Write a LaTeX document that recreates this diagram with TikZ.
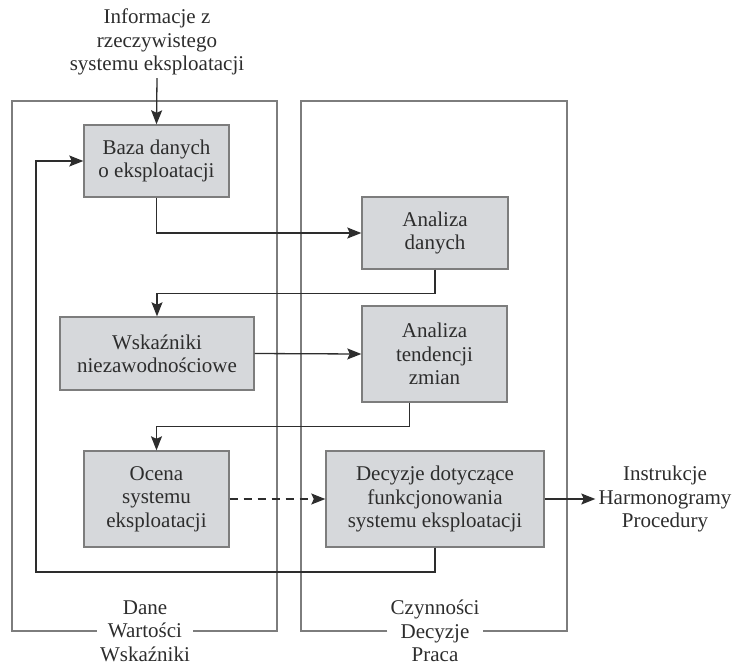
\documentclass[tikz,border=0pt]{standalone}
\usepackage{fontspec}
\setmainfont{Liberation Serif}
\usepackage{tikz}
\usetikzlibrary{arrows.meta}

\definecolor{boxgray}{RGB}{214,216,219}
\definecolor{linegray}{RGB}{125,125,125}
\definecolor{textgray}{RGB}{45,45,45}

\tikzset{
    block/.style={draw=linegray,
        fill=boxgray,
        line width=1.4pt,
        inner sep=0pt,
        align=center},
    caption/.style={align=center, inner sep=3pt},
    frame/.style={draw=linegray, line width=1.3pt},
    arr/.style={-{Stealth[length=14pt,width=11pt,inset=2.5pt]},
        draw=textgray,
        line width=1.3pt}
}

\begin{document}
\begin{tikzpicture}[x=1pt, y=-1pt,
    font=\fontsize{21}{23.3}\selectfont,
    text=textgray]

    \useasboundingbox (0,0) rectangle (747,665);

    % Boxes
    \node[block,
        minimum width=145pt,
        minimum height=72pt
    ] (baza) at (156.5,161) {Baza danych\\o eksploatacji};

    \node[block,
        minimum width=146pt,
        minimum height=72pt
    ] (danych) at (435,233) {Analiza\\danych};

    \node[block,
        minimum width=194pt,
        minimum height=73pt
    ] (wsk) at (157,353.5) {Wskaźniki\\niezawodnościowe};

    \node[block,
        minimum width=145pt,
        minimum height=96pt
    ] (tend) at (434.5,354) {Analiza\\tendencji\\zmian};

    \node[block,
        minimum width=145pt,
        minimum height=96pt
    ] (ocena) at (156.5,499) {Ocena\\systemu\\eksploatacji};

    \node[block,
        minimum width=218pt,
        minimum height=96pt
    ] (decyzje) at (435,499) {Decyzje dotyczące\\funkcjonowania\\systemu eksploatacji};

    % Texts outside
    \node[caption] (info) at (157,42)
        {Informacje z\\rzeczywistego\\systemu eksploatacji};
    \node[caption] (instr) at (665,499)
        {Instrukcje\\Harmonogramy\\Procedury};
    \node[caption] (dane) at (145,631) {Dane\\Wartości\\Wskaźniki};
    \node[caption] (czyn) at (435,631) {Czynności\\Decyzje\\Praca};

    % Frames
    \draw[frame] (dane.west) -| (12,101) -| (277,631) -- (dane.east);
    \draw[frame] (czyn.west) -| (301,101) -| (567,631) -- (czyn.east);

    % Arrows
    \draw[arr] (info.south) -- (baza.north);
    \draw[arr] (baza.south) |- (danych.west);
    \draw[arr] (danych.south) -- ++(0,24) -| (wsk.north);
    \draw[arr] (wsk.east) -- (tend.west);
    \draw[arr] ([xshift=-25pt]tend.south) -- ++(0,24) -| (ocena.north);
    \draw[arr, dash pattern=on 8pt off 6pt] (ocena.east) -- (decyzje.west);
    \draw[arr] (decyzje.east) -- (instr.west);

    % Feedback loop
    \coordinate (corner) at (36,572);
    \draw[arr] (decyzje.south) |- (corner) |- (baza.west);

\end{tikzpicture}
\end{document}
